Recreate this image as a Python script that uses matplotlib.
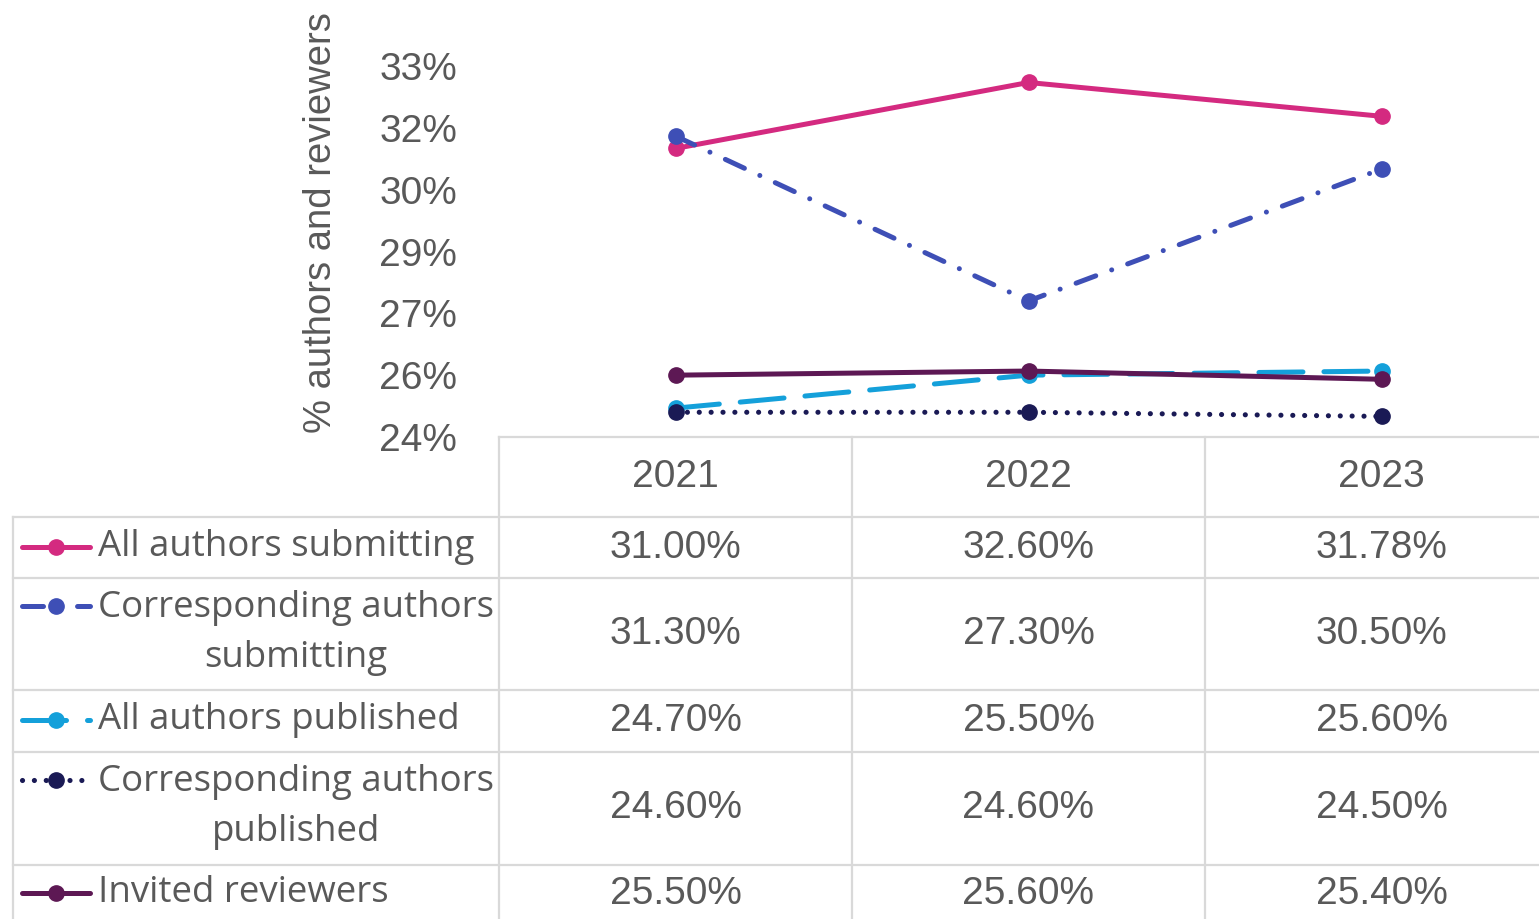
import matplotlib
matplotlib.use("Agg")
import matplotlib.pyplot as plt
from matplotlib.lines import Line2D

years = ['2021', '2022', '2023']
series_names = ['All authors submitting',
                'Corresponding authors\nsubmitting',
                'All authors published',
                'Corresponding authors\npublished',
                'Invited reviewers']
all_sub = [31.00, 32.60, 31.78]
corr_sub = [31.30, 27.30, 30.50]
all_pub = [24.70, 25.50, 25.60]
corr_pub = [24.60, 24.60, 24.50]
invited = [25.50, 25.60, 25.40]
yticks = [24, 25.5, 27, 28.5, 30, 31.5, 33]
ytick_labels = ['24%', '26%', '27%', '29%', '30%', '32%', '33%']

values = [all_sub, corr_sub, all_pub, corr_pub, invited]
colors = ['#D42A80', '#3E4FB6', '#14A0DA', '#1A1A55', '#5D1854']
styles = ['-', (0, (4.2, 3.4, 0.01, 3.4)), (0, (8.8, 4.2)), (0, (0.01, 2.3)), '-']
widths = [3.6, 3.6, 3.6, 3.7, 3.6]

txt = '#595959'
grid_c = '#D9D9D9'
arial = 'Liberation Sans'
legend_font = 'Open Sans'
fs = 28

W, H = 1539, 919
fig = plt.figure(figsize=(W / 100, H / 100), dpi=100)

# pixel helpers
def fx(px):
    return px / W

def fy(py):
    return 1 - py / H

col_w = 353
plot_left, plot_top, plot_bot = 499, 66, 437
ax = fig.add_axes([fx(plot_left), fy(plot_bot), fx(W - plot_left), (plot_bot - plot_top) / H])
ax.set_xlim(-0.5, -0.5 + (W - plot_left) / col_w)
ax.set_ylim(24, 33)
for s in ax.spines.values():
    s.set_visible(False)
ax.set_xticks([])
ax.set_yticks(yticks)
ax.set_yticklabels(ytick_labels, fontsize=fs, family=arial, color=txt)
ax.tick_params(axis='y', length=0, pad=30)
ax.set_ylabel('% authors and reviewers', fontsize=27.5, family=arial, color=txt)
ax.yaxis.set_label_coords(-(plot_left - 339) / (W - plot_left), (plot_bot - 223) / (plot_bot - plot_top))

x = range(len(years))
for vals, c, ls, lw in zip(values, colors, styles, widths):
    ax.plot(x, vals, color=c, linestyle=ls, linewidth=lw, marker='o', markersize=11,
            dash_capstyle='round', solid_capstyle='round', clip_on=False)

# data table overlay in pixel coordinates
ov = fig.add_axes([0, 0, 1, 1])
ov.set_xlim(0, W)
ov.set_ylim(H, 0)
ov.axis('off')
ov.patch.set_alpha(0)

left_col = 13
vlines = [plot_left, plot_left + col_w, plot_left + 2 * col_w]
rows = [517, 578, 690, 752, 865]
lw_grid = 1.6
ov.plot([plot_left, W], [plot_bot, plot_bot], color=grid_c, lw=lw_grid)
for r in rows:
    ov.plot([left_col, W], [r, r], color=grid_c, lw=lw_grid)
ov.plot([left_col, left_col], [rows[0], H], color=grid_c, lw=lw_grid)
for v in vlines:
    ov.plot([v, v], [plot_bot, H], color=grid_c, lw=lw_grid)

centers = [plot_left + col_w * (i + 0.5) for i in range(len(years))]
for cx, yr in zip(centers, years):
    ov.text(cx, 477, yr, ha='center', va='center', fontsize=fs, family=arial, color=txt)

row_centers = [547, 633, 720, 807, 893]
for i, (name, vals) in enumerate(zip(series_names, values)):
    yc = row_centers[i]
    for cx, v in zip(centers, vals):
        ov.text(cx, yc + 1, f'{v:.2f}%', ha='center', va='center', fontsize=fs,
                family=arial, color=txt)
    ov.text(98, yc, name, ha='left', va='center', multialignment='center',
            fontsize=26.4, family=legend_font, color=txt, linespacing=1.5)
    ky = yc if '\n' not in name else yc - 27
    ov.add_line(Line2D([22, 90], [ky, ky], color=colors[i], linestyle=styles[i],
                       linewidth=widths[i], dash_capstyle='round',
                       solid_capstyle='round'))
    ov.add_line(Line2D([56], [ky], color=colors[i], marker='o', markersize=11))

fig.savefig('out.png', dpi=100)
